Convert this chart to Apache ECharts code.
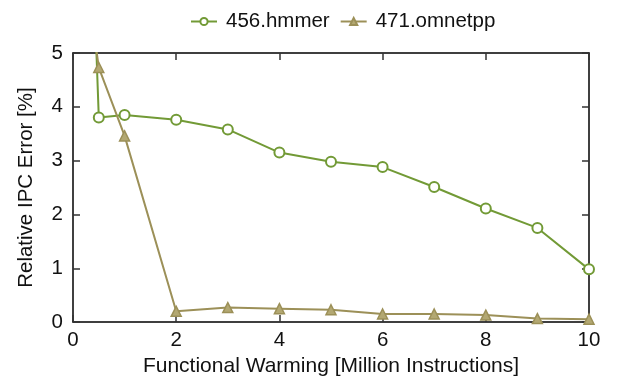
<!DOCTYPE html>
<html><head><meta charset="utf-8">
<script src="https://cdn.jsdelivr.net/npm/echarts@6/dist/echarts.min.js"></script>
<style>html,body{margin:0;padding:0;background:#fff}#c{width:619px;height:382px}</style>
</head><body><div id="c"></div>
<script>
const warming = [0, 0.5, 1, 2, 3, 4, 5, 6, 7, 8, 9, 10];
const hmmer = [17, 3.8, 3.85, 3.76, 3.58, 3.15, 2.98, 2.88, 2.51, 2.11, 1.75, 0.98];
const omnetpp = [8.2, 4.73, 3.46, 0.2, 0.27, 0.25, 0.23, 0.15, 0.15, 0.13, 0.065, 0.055];
const seriesNames = ['456.hmmer', '471.omnetpp'];
const xTicks = [0, 2, 4, 6, 8, 10];
const yTicks = [0, 1, 2, 3, 4, 5];

const font = 'Liberation Sans, Arial, Helvetica, sans-serif';
const fs = 20.5;
const cHmmer = '#729a36';
const cOmnet = '#9c9058';
const chart = echarts.init(document.getElementById('c'), null, {renderer: 'canvas'});
const axisLine = {show: true, onZero: false, lineStyle: {color: '#000', width: 1.5}};
const tickStyle = {show: true, inside: true, length: 7, lineStyle: {color: '#333', width: 1.5}};
chart.setOption({
  animation: false,
  textStyle: {fontFamily: font},
  legend: {
    top: 6, left: 185, itemWidth: 26, itemHeight: 9, itemGap: 10,
    textStyle: {fontFamily: font, fontSize: fs, color: '#111', padding: [0, 0, 0, 4]},
    data: seriesNames
  },
  grid: {left: 73, right: 30, top: 53, bottom: 54, containLabel: false},
  xAxis: [{
    type: 'value', min: 0, max: 10, interval: 2,
    axisLine: axisLine, axisTick: tickStyle, splitLine: {show: false},
    axisLabel: {fontFamily: font, fontSize: fs, color: '#111', margin: 8},
    name: 'Functional Warming [Million Instructions]', nameLocation: 'middle', nameGap: 29,
    nameTextStyle: {fontFamily: font, fontSize: 21, color: '#111'}
  }, {
    type: 'value', min: 0, max: 10, interval: 2, position: 'top',
    axisLine: axisLine, axisTick: tickStyle, axisLabel: {show: false}, splitLine: {show: false}
  }],
  yAxis: [{
    type: 'value', min: 0, max: 5, interval: 1,
    axisLine: axisLine, axisTick: tickStyle, splitLine: {show: false},
    axisLabel: {fontFamily: font, fontSize: fs, color: '#111', margin: 10},
    name: 'Relative IPC Error [%]', nameLocation: 'middle', nameGap: 36,
    nameTextStyle: {fontFamily: font, fontSize: fs, color: '#111'}
  }, {
    type: 'value', min: 0, max: 5, interval: 1, position: 'right',
    axisLine: axisLine, axisTick: tickStyle, axisLabel: {show: false}, splitLine: {show: false}
  }],
  series: [{
    name: seriesNames[0], type: 'line', clip: true,
    data: warming.map((x, i) => [x, hmmer[i]]),
    symbol: 'emptyCircle', symbolSize: 10,
    itemStyle: {color: cHmmer, borderWidth: 2},
    lineStyle: {color: cHmmer, width: 2}
  }, {
    name: seriesNames[1], type: 'line', clip: true,
    data: warming.map((x, i) => [x, omnetpp[i]]),
    symbol: 'triangle', symbolSize: 10,
    itemStyle: {color: '#b3a872', borderColor: cOmnet, borderWidth: 1.5},
    lineStyle: {color: cOmnet, width: 2}
  }]
});
</script></body></html>
